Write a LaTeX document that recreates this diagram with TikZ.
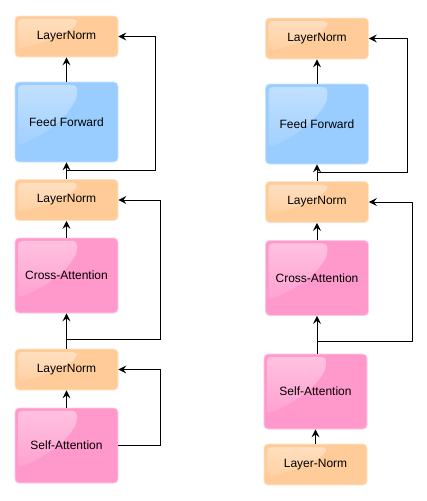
\documentclass[tikz,border=0pt]{standalone}
\usepackage{fontspec}
\setmainfont{Liberation Sans}
\usetikzlibrary{arrows.meta,fadings,calc}
\definecolor{lnc}{HTML}{FFCC99}
\definecolor{ffc}{HTML}{99CCFF}
\definecolor{atc}{HTML}{FF99CC}
\tikzfading[name=glassfade, top color=transparent!25, bottom color=transparent!100]
\begin{document}
\begin{tikzpicture}[x=1pt,y=-1pt,
  glass/.style={path picture={
    \fill[white, fill opacity=.55, path fading=glassfade, rounded corners=4pt]
      let \p1=(path picture bounding box.north west),
          \p2=(path picture bounding box.south east),
          \n1={\x2-\x1}, \n2={\y1-\y2} in
      (\x1+3pt,\y1-3pt) -- (\x1+0.6*\n1,\y1-3pt) -- (\x1+0.6*\n1,\y1-0.2*\n2)
      .. controls (\x1+0.45*\n1,\y1-0.55*\n2) and (\x1+0.2*\n1,\y1-0.7*\n2) ..
      (\x1+3pt,\y1-0.8*\n2) -- cycle;}},
  box/.style={rectangle, rounded corners=4pt, minimum width=103pt, inner sep=0pt,
    line width=0.8pt, font=\fontsize{12}{14}\selectfont, glass},
  ln/.style={box, fill=lnc, draw=lnc!55!white, minimum height=41pt},
  ff/.style={box, fill=ffc, draw=ffc!55!white, minimum height=80pt},
  att/.style={box, fill=atc, draw=atc!55!white, minimum height=75pt},
  arr/.style={-{Stealth[length=8pt,width=8pt,inset=3pt]}, line width=1pt, black}]
\useasboundingbox (0,0) rectangle (427,501);

% left column
\node[ln]  (l1) at (66.5,36.5)  {LayerNorm};
\node[ff]  (l2) at (66.5,122)   {Feed Forward};
\node[ln]  (l3) at (66.5,200)   {LayerNorm};
\node[att] (l4) at (66.5,275.5) {Cross-Attention};
\node[ln]  (l5) at (66.5,369.5) {LayerNorm};
\node[att] (l6) at (66.5,445.5) {Self-Attention};

\draw[arr] (l2) -- (l1);
\draw[arr] (l3) -- (l2);
\draw[arr] (l4) -- (l3);
\draw[arr] (l5) -- (l4);
\draw[arr] (l6) -- (l5);

\coordinate (lj1) at (66.5,170);
\coordinate (lk1) at (155,170);
\draw[arr] (lj1) -- (lk1) |- (l1.east);
\coordinate (lj2) at (66.5,339);
\coordinate (lk2) at (160,339);
\draw[arr] (lj2) -- (lk2) |- (l3.east);
\coordinate (lk3) at (160,445.5);
\draw[arr] (l6.east) -- (lk3) |- (l5.east);

% right column
\node[ln]  (r1) at (317,38.5)    {LayerNorm};
\node[ff]  (r2) at (317,124)     {Feed Forward};
\node[ln]  (r3) at (317,202)     {LayerNorm};
\node[att] (r4) at (317,278)     {Cross-Attention};
\node[att] (r5) at (315.5,391.5) {Self-Attention};
\node[ln]  (r6) at (315.5,464.5) {Layer-Norm};

\draw[arr] (r2) -- (r1);
\draw[arr] (r3) -- (r2);
\draw[arr] (r4) -- (r3);
\draw[arr] (r5.north -| r4.south) -- (r4.south);
\draw[arr] (r6) -- (r5);

\coordinate (rj1) at (317,172);
\coordinate (rk1) at (407,172);
\draw[arr] (rj1) -- (rk1) |- (r1.east);
\coordinate (rj2) at (317,341);
\coordinate (rk2) at (412,341);
\draw[arr] (rj2) -- (rk2) |- (r3.east);
\end{tikzpicture}
\end{document}
